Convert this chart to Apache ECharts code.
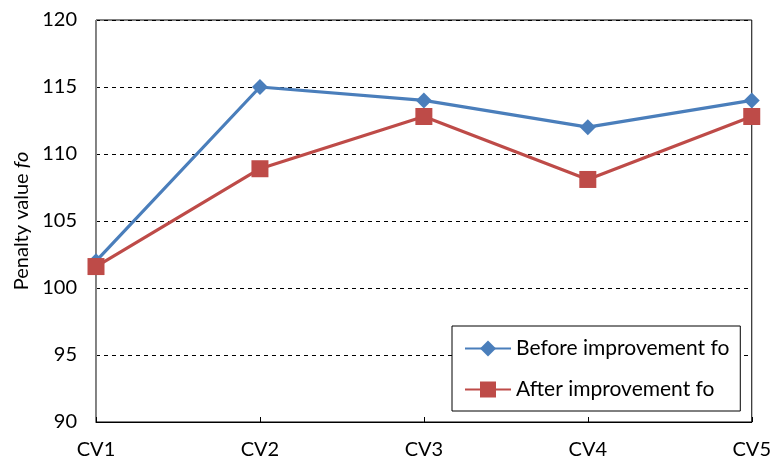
<!DOCTYPE html>
<html>
<head>
<meta charset="utf-8">
<script src="https://cdn.jsdelivr.net/npm/echarts@6/dist/echarts.min.js"></script>
<style>html,body{margin:0;padding:0;background:#fff}#c{width:774px;height:466px}</style>
</head>
<body>
<div id="c"></div>
<script>
var categories = ['CV1', 'CV2', 'CV3', 'CV4', 'CV5'];
var beforeValues = [102.0, 115.0, 114.0, 112.0, 114.0];
var afterValues = [101.6, 108.9, 112.8, 108.1, 112.8];
var seriesNames = ['Before improvement fo', 'After improvement fo'];

var FONT = 'Lato, "Open Sans", sans-serif';
var chart = echarts.init(document.getElementById('c'), null, {renderer: 'canvas'});
chart.setOption({
  animation: false,
  backgroundColor: '#fff',
  textStyle: {fontFamily: FONT},
  grid: {left: 96, right: 19, top: 20, bottom: 44, show: true, borderColor: '#000', borderWidth: 1},
  legend: {
    orient: 'vertical',
    left: 452, top: 326,
    padding: [12, 11, 11, 12],
    itemGap: 20,
    itemWidth: 46, itemHeight: 20,
    borderColor: '#000', borderWidth: 1,
    backgroundColor: '#fff',
    textStyle: {fontSize: 21, lineHeight: 20, color: '#000', fontFamily: FONT},
    data: seriesNames
  },
  xAxis: {
    type: 'category',
    data: categories,
    boundaryGap: false,
    axisLine: {lineStyle: {color: '#000', width: 1}},
    axisTick: {show: true, inside: true, length: 5, lineStyle: {color: '#000'}},
    axisLabel: {fontSize: 20, color: '#000', margin: 18, fontFamily: FONT},
    splitLine: {show: false}
  },
  yAxis: {
    type: 'value',
    min: 90, max: 120, interval: 5,
    name: '{a|Penalty value }{b|fo}',
    nameLocation: 'middle',
    nameGap: 63,
    nameRotate: 90,
    nameTextStyle: {
      fontSize: 20, color: '#000', fontFamily: FONT,
      rich: {
        a: {fontSize: 20, color: '#000', fontFamily: FONT},
        b: {fontSize: 20, color: '#000', fontFamily: FONT, fontStyle: 'italic'}
      }
    },
    axisLine: {show: true, lineStyle: {color: '#868686', width: 1}},
    axisTick: {show: false},
    axisLabel: {fontSize: 20, color: '#000', margin: 19, fontFamily: FONT},
    splitLine: {show: true, lineStyle: {color: '#000', type: [4, 4], width: 1}}
  },
  series: [
    {
      name: seriesNames[0],
      type: 'line',
      data: beforeValues,
      symbol: 'diamond',
      symbolSize: 16,
      lineStyle: {color: '#4A7EBB', width: 3.2},
      itemStyle: {color: '#4A7EBB'},
      z: 3
    },
    {
      name: seriesNames[1],
      type: 'line',
      data: afterValues,
      symbol: 'rect',
      symbolSize: 17,
      lineStyle: {color: '#BE4B48', width: 3.2},
      itemStyle: {color: '#BE4B48'},
      z: 4
    }
  ]
});
</script>
</body>
</html>
